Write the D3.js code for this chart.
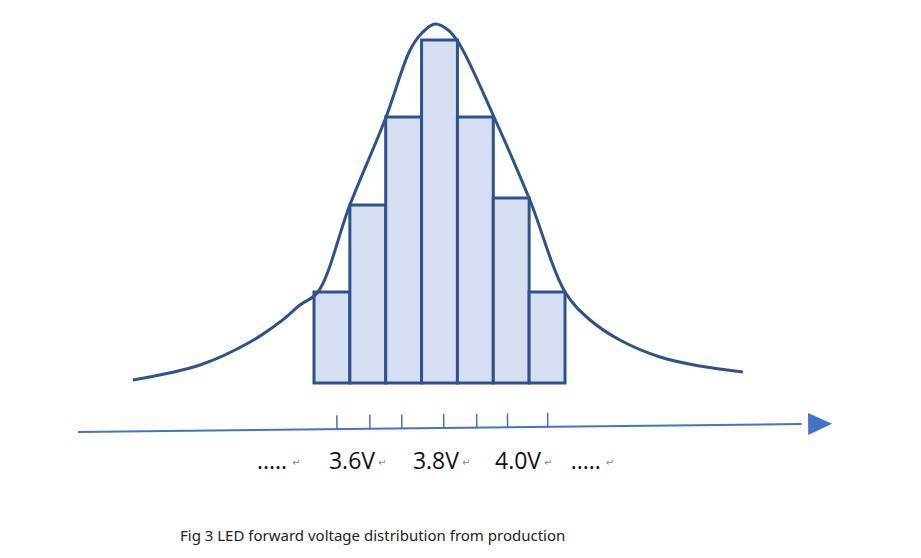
<!DOCTYPE html>
<html><head><meta charset="utf-8">
<script src="https://cdn.jsdelivr.net/npm/d3@7"></script>
<style>body{margin:0;background:#fff}</style></head>
<body><svg id="c" width="921" height="558"></svg>
<script>
// bins in "bin units" (bin i spans [i,i+1]); counts
const binValues = [91, 178, 266, 343, 266, 185, 91];
// fitted curve: [bin units, value]
const curveU = [-5.05,-3.18,-1.78,-0.95,-0.39,0.11,1.0,2.0,2.68,3.01,3.37,3.74,4.07,5.02,6.02,7.0,7.7,8.53,9.65,10.76,11.96];
const curveV = [3,18,41,61,78,91,178,265,333,350,359,353,338,266,183,91,63,43,26,17,11];
const tickU = [0.64,1.56,2.45,3.62,4.54,5.4,6.52];
const labels = [{t:".....",u:-1.17},{t:"3.6V",u:1.06},{t:"3.8V",u:3.4},{t:"4.0V",u:5.69},{t:".....",u:7.58}];
const caption = "Fig 3 LED forward voltage distribution from production";

const svg = d3.select("#c");
const x = d3.scaleLinear().domain([0,7]).range([314,565]);
const y = d3.scaleLinear().domain([0,360]).range([383,23]);
const col = "#2f528f";

svg.append("g").selectAll("rect").data(binValues).join("rect")
  .attr("x",(d,i)=>x(i)).attr("width",x(1)-x(0))
  .attr("y",d=>y(d)).attr("height",d=>y(0)-y(d))
  .attr("fill","#d6dff1").attr("stroke",col).attr("stroke-width",3);

const line = d3.line().x(d=>x(d[0])).y(d=>y(d[1])).curve(d3.curveCatmullRom);
svg.append("path").datum(curveU.map((u,i)=>[u,curveV[i]]))
  .attr("d",line).attr("fill","none").attr("stroke",col).attr("stroke-width",3);

// axis (slightly tilted)
const ax = svg.append("g").attr("transform","rotate(-0.63,444,428)");
const axY = 428;
ax.append("line").attr("x1",x(-6.58)).attr("x2",x(13.6)).attr("y1",axY).attr("y2",axY)
  .attr("stroke","#4472c4").attr("stroke-width",2);
const tip = x(14.45);
ax.append("path").attr("d",`M${tip},${axY} L${tip-24},${axY-11} L${tip-24},${axY+11} Z`).attr("fill","#4472c4");
ax.selectAll(".tk").data(tickU).join("line")
  .attr("x1",d=>x(d)).attr("x2",d=>x(d)).attr("y1",axY).attr("y2",axY-14)
  .attr("stroke","#4472c4").attr("stroke-width",1.5);

svg.selectAll(".lb").data(labels).join("text")
  .attr("x",d=>x(d.u)).attr("y",469).attr("text-anchor","middle")
  .attr("font-family","Open Sans, sans-serif").attr("font-size",23).attr("fill","#111")
  .text(d=>d.t);
svg.selectAll(".rt").data(labels).join("text")
  .attr("x",d=>x(d.u)+ (d.t.length>4?20:26)).attr("y",466)
  .attr("font-family","DejaVu Sans").attr("font-size",10).attr("fill","#888").text("↵");
svg.append("text").attr("x",180).attr("y",541).attr("font-family","Noto Sans, sans-serif")
  .attr("font-size",15).attr("fill","#222").text(caption);
</script></body></html>
